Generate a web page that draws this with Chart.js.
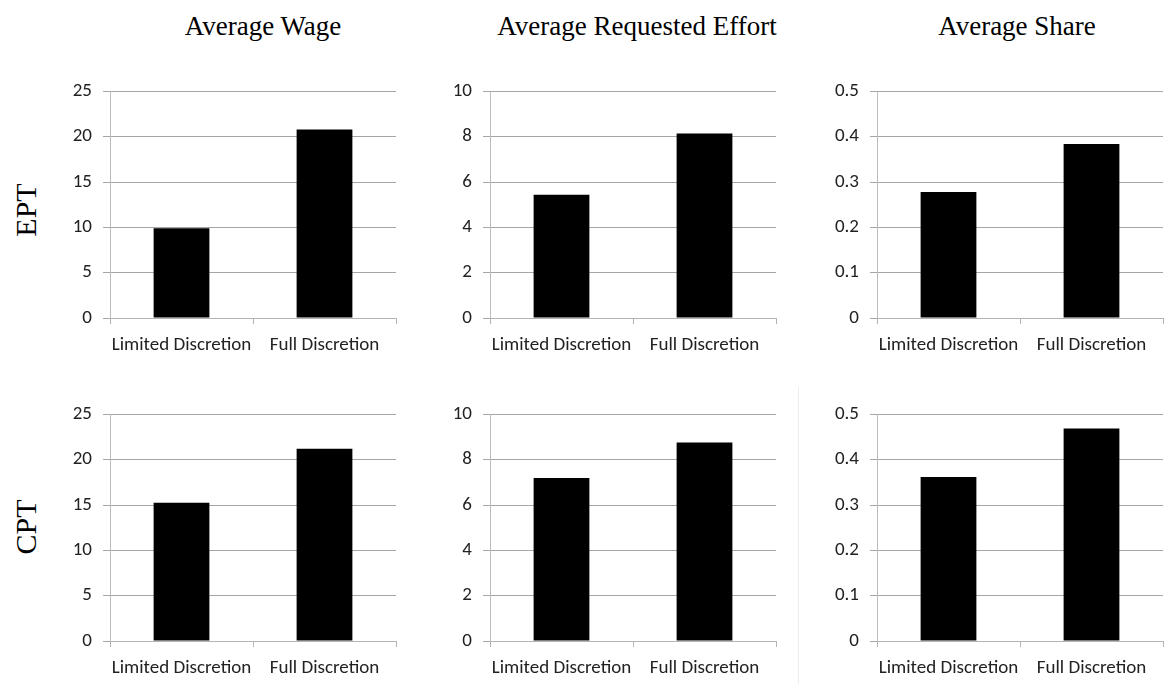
<!DOCTYPE html>
<html>
<head>
<meta charset="utf-8">
<script src="https://cdn.jsdelivr.net/npm/chart.js@4.4.0/dist/chart.umd.min.js"></script>
<style>
    body { margin: 0; background: #fff; width: 1171px; height: 684px; overflow: hidden; position: relative; }
    .panel { position: absolute; }
    .titulo { position: absolute; font-family: "Liberation Serif", "Times New Roman", serif; font-size: 27px; color: #000; transform: translateX(-50%); white-space: nowrap; }
    .fila { position: absolute; font-family: "Liberation Serif", "Times New Roman", serif; font-size: 30px; color: #000; transform: translate(-50%, -50%) rotate(-90deg); white-space: nowrap; }
    .separador { position: absolute; left: 798px; top: 387px; width: 1px; height: 297px; background: #ededed; }
</style>
</head>
<body>
<div class="titulo" style="left:263px; top:11px;">Average Wage</div>
<div class="titulo" style="left:637px; top:11px;">Average Requested Effort</div>
<div class="titulo" style="left:1017px; top:11px;">Average Share</div>
<div class="fila" style="left:26px; top:210px;">EPT</div>
<div class="fila" style="left:26px; top:527px;">CPT</div>
<div class="separador"></div>
<script>
const categorias = ['Limited Discretion', 'Full Discretion'];
const wageEPT = [9.9, 20.8];
const effortEPT = [5.44, 8.14];
const shareEPT = [0.278, 0.384];
const wageCPT = [15.25, 21.2];
const effortCPT = [7.19, 8.76];
const shareCPT = [0.362, 0.469];
const yMax = [25, 10, 0.5];
const yStep = [5, 2, 0.1];

function loadPage() {
    const ejeX = [110, 490, 877];
    const topeFila = [89, 412];
    const anchoArea = 286;
    const altoArea = 229;
    const izq = 70, arriba = 20, abajo = 50, der = 6;

    function crearGrafico(fila, col, valores) {
        const div = document.createElement('div');
        div.className = 'panel';
        div.style.left = (ejeX[col] - izq) + 'px';
        div.style.top = (topeFila[fila] - arriba) + 'px';
        div.style.width = (izq + anchoArea + der) + 'px';
        div.style.height = (arriba + altoArea + abajo) + 'px';
        const canvas = document.createElement('canvas');
        div.appendChild(canvas);
        document.body.appendChild(div);

        const config = {
            type: 'bar',
            data: {
                labels: categorias,
                datasets: [{
                    data: valores,
                    backgroundColor: '#000',
                    borderWidth: 0,
                    categoryPercentage: 0.39,
                    barPercentage: 1
                }]
            },
            options: {
                responsive: true,
                maintainAspectRatio: false,
                animation: false,
                devicePixelRatio: 1,
                layout: { padding: { top: arriba, right: der, left: 0, bottom: 0 } },
                plugins: { legend: { display: false }, tooltip: { enabled: false } },
                scales: {
                    x: {
                        offset: true,
                        afterFit: s => { s.height = abajo; },
                        grid: { offset: true, drawOnChartArea: false, drawTicks: true, tickLength: 6, color: '#b4b4b4' },
                        border: { color: '#b4b4b4' },
                        ticks: { color: '#222', font: { family: 'Carlito, Lato, sans-serif', size: 19 }, padding: 10, maxRotation: 0, autoSkip: false }
                    },
                    y: {
                        min: 0,
                        max: yMax[col],
                        afterFit: s => { s.width = izq; },
                        grid: { color: '#a6a6a6', tickLength: 7 },
                        border: { color: '#bdbdbd' },
                        ticks: { stepSize: yStep[col], color: '#222', font: { family: 'Carlito, Lato, sans-serif', size: 19 }, padding: 11 }
                    }
                }
            }
        };
        return new Chart(canvas.getContext('2d'), config);
    }

    crearGrafico(0, 0, wageEPT);
    crearGrafico(0, 1, effortEPT);
    crearGrafico(0, 2, shareEPT);
    crearGrafico(1, 0, wageCPT);
    crearGrafico(1, 1, effortCPT);
    crearGrafico(1, 2, shareCPT);
}
window.addEventListener("DOMContentLoaded", loadPage);
</script>
</body>
</html>
